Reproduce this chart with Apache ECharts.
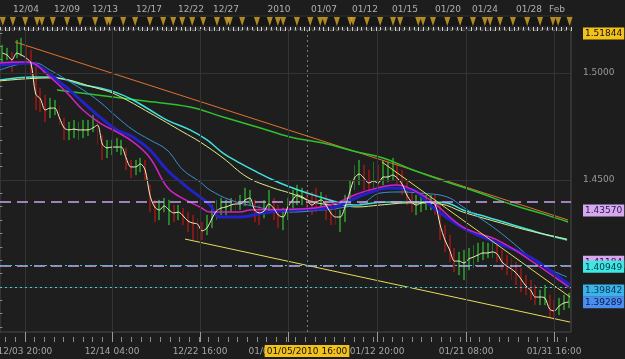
<!DOCTYPE html>
<html><head><meta charset="utf-8">
<script src="https://cdn.jsdelivr.net/npm/echarts@6/dist/echarts.min.js"></script>
<style>html,body{margin:0;padding:0;background:#1d1d1d;}#c{width:625px;height:359px;}</style>
</head><body><div id="c"></div>
<script>
// ---- price bars (4h) ----
const barHigh = [1.5131,1.5117,1.5098,1.5154,1.5164,1.5131,1.5107,1.5037,1.4930,1.4897,
 1.4883,1.4874,1.4850,1.4790,1.4771,1.4780,1.4771,1.4780,1.4780,1.4804,
 1.4790,1.4710,1.4687,1.4687,1.4696,1.4687,1.4650,1.4593,1.4593,1.4603,
 1.4593,1.4477,1.4407,1.4407,1.4416,1.4407,1.4383,1.4383,1.4369,1.4350,
 1.4336,1.4322,1.4304,1.4336,1.4383,1.4407,1.4416,1.4407,1.4416,1.4416,
 1.4430,1.4463,1.4453,1.4407,1.4383,1.4407,1.4453,1.4416,1.4383,1.4369,
 1.4416,1.4453,1.4477,1.4463,1.4453,1.4444,1.4463,1.4444,1.4430,1.4383,
 1.4369,1.4360,1.4430,1.4500,1.4570,1.4593,1.4570,1.4547,1.4584,1.4570,
 1.4593,1.4584,1.4603,1.4570,1.4547,1.4500,1.4444,1.4430,1.4430,1.4430,
 1.4430,1.4430,1.4383,1.4290,1.4243,1.4182,1.4164,1.4173,1.4182,1.4196,
 1.4206,1.4210,1.4206,1.4229,1.4210,1.4173,1.4150,1.4136,1.4117,1.4089,
 1.4056,1.4033,1.4009,1.3986,1.4009,1.3963,1.3939,1.3949,1.3963,1.3972];
const barLow = [1.5051,1.5061,1.5005,1.5070,1.5079,1.5051,1.4991,1.4827,1.4818,1.4771,
 1.4790,1.4804,1.4757,1.4687,1.4687,1.4696,1.4687,1.4696,1.4706,1.4724,
 1.4664,1.4593,1.4603,1.4617,1.4631,1.4617,1.4547,1.4509,1.4523,1.4537,
 1.4500,1.4350,1.4304,1.4313,1.4350,1.4290,1.4304,1.4313,1.4290,1.4257,
 1.4220,1.4210,1.4220,1.4243,1.4276,1.4313,1.4336,1.4336,1.4350,1.4350,
 1.4360,1.4379,1.4383,1.4304,1.4290,1.4322,1.4350,1.4313,1.4276,1.4266,
 1.4313,1.4360,1.4383,1.4383,1.4360,1.4336,1.4350,1.4360,1.4313,1.4290,
 1.4290,1.4257,1.4304,1.4383,1.4453,1.4477,1.4453,1.4444,1.4463,1.4463,
 1.4477,1.4491,1.4500,1.4477,1.4430,1.4383,1.4350,1.4336,1.4350,1.4360,
 1.4360,1.4336,1.4220,1.4164,1.4117,1.4070,1.4056,1.4033,1.4079,1.4089,
 1.4117,1.4126,1.4136,1.4136,1.4117,1.4079,1.4056,1.4033,1.4009,1.3977,
 1.3963,1.3939,1.3916,1.3916,1.3916,1.3855,1.3846,1.3869,1.3893,1.3902];
const barUp = [1,1,0,1,1,0,0,0,0,0,
 1,1,0,0,1,1,1,1,1,1,
 0,0,1,1,1,1,0,0,1,1,
 0,0,0,1,1,1,0,1,0,0,
 0,0,0,1,1,1,1,1,1,0,
 1,1,1,0,0,1,1,0,0,1,
 1,1,1,1,0,0,0,1,0,0,
 0,1,1,1,1,1,0,0,1,0,
 1,1,1,0,0,0,0,1,1,1,
 1,0,0,0,0,0,1,1,1,1,
 1,1,1,1,0,0,0,0,0,0,
 0,0,0,1,1,0,0,1,1,1];
const fastLine = [1.5093,1.5084,1.5061,1.5093,1.5084,1.5070,1.5047,1.4902,1.4879,1.4827,
 1.4836,1.4836,1.4790,1.4743,1.4734,1.4738,1.4734,1.4734,1.4734,1.4743,
 1.4757,1.4668,1.4650,1.4654,1.4654,1.4654,1.4603,1.4561,1.4561,1.4575,
 1.4547,1.4430,1.4374,1.4360,1.4379,1.4360,1.4346,1.4350,1.4332,1.4308,
 1.4299,1.4294,1.4262,1.4276,1.4318,1.4355,1.4369,1.4374,1.4383,1.4388,
 1.4388,1.4407,1.4416,1.4360,1.4346,1.4355,1.4388,1.4369,1.4336,1.4327,
 1.4374,1.4407,1.4430,1.4421,1.4407,1.4383,1.4397,1.4407,1.4383,1.4346,
 1.4327,1.4327,1.4374,1.4444,1.4509,1.4528,1.4509,1.4486,1.4495,1.4486,
 1.4514,1.4514,1.4523,1.4509,1.4481,1.4430,1.4397,1.4383,1.4393,1.4397,
 1.4397,1.4383,1.4290,1.4220,1.4173,1.4121,1.4121,1.4112,1.4131,1.4140,
 1.4150,1.4159,1.4159,1.4164,1.4154,1.4117,1.4098,1.4084,1.4065,1.4037,
 1.4005,1.3986,1.3953,1.3953,1.3949,1.3897,1.3888,1.3911,1.3925,1.3930];

// ---- moving averages [bar position, price] ----
const maMagenta = [[-0.5,1.5047],[3.7,1.5051],[5.38,1.5051],[10.0,1.4981],[13.58,1.4907],[16.94,1.4827],[20.52,1.4766],[24.09,1.4724],[27.45,1.4678],[31.03,1.4603],[34.6,1.4467],[37.33,1.4421],[41.53,1.4374],[43.64,1.4350],[49.94,1.4350],[52.04,1.4360],[62.55,1.4364],[68.86,1.4383],[75.79,1.4444],[82.94,1.4477],[85.04,1.4467],[89.88,1.4407],[96.81,1.4280],[103.96,1.4220],[110.89,1.4126],[117.83,1.4019],[119.3,1.3995]];
const maBlue = [[-0.5,1.5037],[5.8,1.5047],[7.9,1.5028],[13.58,1.4930],[16.94,1.4864],[20.52,1.4794],[24.09,1.4734],[27.45,1.4701],[31.03,1.4640],[34.6,1.4547],[38.8,1.4467],[41.53,1.4421],[43.64,1.4383],[45.74,1.4327],[49.94,1.4327],[54.78,1.4346],[60.45,1.4360],[68.86,1.4369],[75.79,1.4430],[81.47,1.4463],[86.3,1.4453],[89.88,1.4383],[96.81,1.4276],[103.96,1.4206],[110.89,1.4140],[117.83,1.4033],[119.3,1.4009]];
const maSteel = [[-0.5,1.5014],[5.8,1.5047],[6.86,1.5047],[10.0,1.5014],[13.58,1.4967],[16.94,1.4921],[20.52,1.4864],[24.09,1.4794],[27.45,1.4734],[31.03,1.4687],[34.6,1.4640],[37.96,1.4547],[41.53,1.4491],[43.64,1.4453],[47.84,1.4407],[53.51,1.4374],[60.45,1.4350],[67.39,1.4360],[70.96,1.4369],[75.79,1.4393],[79.37,1.4439],[83.57,1.4444],[87.77,1.4439],[93.45,1.4421],[96.81,1.4374],[100.38,1.4322],[103.96,1.4266],[107.32,1.4206],[110.89,1.4140],[114.46,1.4089],[118.67,1.4047]];
const maCyan = [[-0.5,1.4967],[6.44,1.4981],[10.0,1.4981],[13.58,1.4967],[16.94,1.4944],[20.52,1.4930],[24.09,1.4907],[27.45,1.4874],[31.03,1.4827],[34.6,1.4780],[39.43,1.4734],[43.0,1.4687],[46.37,1.4626],[49.94,1.4579],[53.51,1.4537],[56.88,1.4500],[60.45,1.4467],[64.02,1.4439],[67.39,1.4416],[70.96,1.4393],[74.53,1.4383],[77.89,1.4393],[81.47,1.4397],[89.88,1.4397],[93.45,1.4393],[96.81,1.4360],[100.38,1.4336],[103.96,1.4313],[107.32,1.4290],[110.89,1.4266],[114.46,1.4243],[118.67,1.4220]];
const maPale = [[-0.5,1.4963],[10.0,1.4977],[20.52,1.4925],[24.09,1.4897],[31.03,1.4813],[37.96,1.4724],[41.53,1.4678],[46.37,1.4603],[51.41,1.4514],[56.88,1.4463],[60.45,1.4439],[66.1,1.4393],[70.96,1.4383],[74.53,1.4374],[79.37,1.4383],[85.67,1.4393],[91.98,1.4388],[96.81,1.4350],[103.96,1.4304],[110.89,1.4262],[118.67,1.4224]];
const maGreen = [[11.48,1.4921],[29.55,1.4870],[39.43,1.4841],[46.37,1.4794],[53.51,1.4748],[60.45,1.4701],[67.39,1.4673],[74.53,1.4631],[80.0,1.4603],[86.3,1.4547],[93.45,1.4491],[100.38,1.4439],[107.32,1.4383],[114.46,1.4336],[118.88,1.4304]];
// ---- trend lines ----
const trendOrange = [[2.65,1.5145],[118.88,1.4313]];
const trendUpper = [[79.78,1.4584],[119.3,1.3953]];
const trendLower = [[38.38,1.4224],[119.3,1.3836]];
// ---- horizontal levels / labels ----
const levelGold = 1.51844;
const levelLavender = [1.43570, 1.41184];
const levelCyan = [1.40949, 1.39842];
const lastPrice = 1.39289;
const priceLabelValues = [1.5, 1.45, 1.51844, 1.43570, 1.41184, 1.40949, 1.39842, 1.39289];
const priceLabelKinds = ['plain','plain','gold','lav','lav','cyan','lblue','blue'];
// ---- time axis labels ----
const topLabelPos = [4.96,13.58,21.57,30.8,39.64,47.0,58.14,67.6,76.2,84.6,93.66,101.43,110.68,116.57];
const topLabelText = ['12/04','12/09','12/13','12/17','12/22','12/27','2010','01/07','01/12','01/15','01/20','01/24','01/28','Feb'];
const bottomTickPos = [4.75,23.04,41.53,60.03,78.74,97.44,115.93];
const bottomLabelPos = [4.75,23.04,41.53,57.5,78.74,97.44,115.93];
const bottomLabelText = ['12/03 20:00','12/14 04:00','12/22 16:00','01/04 08:00','01/12 20:00','01/21 08:00','01/31 16:00'];
const cursorPos = 64.02;
const cursorText = '01/05/2010 16:00';
const sessionMarks = [0.1,2.2,4.8,7.3,8.3,10.6,13.6,16.3,19.5,22.0,22.6,25.4,27.9,31.0,33.8,35.9,37.8,39.9,42.2,45.1,47.2,47.8,50.4,53.5,56.2,57.9,59.0,61.9,64.7,66.8,67.8,70.3,73.1,73.7,76.6,79.4,82.1,83.6,87.4,88.4,90.5,93.5,96.2,98.9,101.4,102.5,104.6,107.3,110.3,113.0,115.7,116.8,119.2];

const FONT = 'DejaVu Sans';
const yMin = 1.37897, yMax = 1.52056;
const N = barHigh.length;
const categories = barHigh.map((_, i) => String(i));
const candles = barHigh.map((h, i) => barUp[i] ? [barLow[i], h, barLow[i], h] : [h, barLow[i], barLow[i], h]);
const yMinorTicks = []; for (let k = -19; k <= 3; k++) yMinorTicks.push(+(1.5 + k * 0.00625).toFixed(5));
const xMinorTicks = []; const xStep = (bottomTickPos[1] - bottomTickPos[0]) / 9;
for (let v = bottomTickPos[0] - 2 * xStep; v <= N - 0.5; v += xStep) xMinorTicks.push(+v.toFixed(3));

function nearest(arr, v) { let b = 0; for (let i = 1; i < arr.length; i++) if (Math.abs(arr[i] - v) < Math.abs(arr[b] - v)) b = i; return b; }

function maLine(data, color, width, z) {
  return { type: 'line', xAxisIndex: 1, yAxisIndex: 0, data: data, smooth: 0.4, showSymbol: false, symbol: 'none',
    lineStyle: { color: color, width: width }, z: z || 3, silent: true };
}
function trend(data, color) {
  return { type: 'line', xAxisIndex: 1, yAxisIndex: 0, data: data, showSymbol: false, symbol: 'none',
    lineStyle: { color: color, width: 1 }, z: 3, silent: true };
}

const chart = echarts.init(document.getElementById('c'), null, { renderer: 'canvas' });
const box = (bg, fg) => ({ backgroundColor: bg, color: fg, fontSize: 9, fontFamily: FONT, padding: [2, 2, 1, 2] });
chart.setOption({
  backgroundColor: '#1d1d1d',
  animation: false,
  textStyle: { fontFamily: FONT },
  grid: [
    { left: 0, top: 29, width: 571, height: 303, show: true, backgroundColor: '#1e1e1e', borderColor: '#4a4a4a', borderWidth: 1, outerBoundsMode: 'none', containLabel: false },
    { left: 0, top: 16, width: 571, height: 11, show: true, backgroundColor: '#171717', borderColor: '#333', borderWidth: 1, outerBoundsMode: 'none', containLabel: false }
  ],
  xAxis: [
    { type: 'category', gridIndex: 0, data: categories, boundaryGap: true, show: false },
    { type: 'value', gridIndex: 0, min: -0.5, max: N - 0.5, position: 'bottom', offset: 10,
      axisLine: { show: false }, splitLine: { show: false }, axisLabel: { show: false },
      axisTick: { show: true, inside: true, length: 5, customValues: xMinorTicks, lineStyle: { color: '#8a8a8a' } } },
    { type: 'value', gridIndex: 0, min: -0.5, max: N - 0.5, position: 'bottom', offset: 10,
      axisLine: { show: false }, splitLine: { show: false },
      axisTick: { show: true, inside: true, length: 10, customValues: bottomTickPos, lineStyle: { color: '#9a9a9a' } },
      axisLabel: { show: true, customValues: bottomLabelPos, formatter: v => bottomLabelText[nearest(bottomLabelPos, v)], color: '#a4a4a4', fontSize: 9, fontFamily: FONT, margin: 5 } },
    { type: 'value', gridIndex: 0, min: -0.5, max: N - 0.5, position: 'bottom', offset: 10,
      axisLine: { show: false }, splitLine: { show: false }, axisTick: { show: false },
      axisLabel: { show: true, customValues: [cursorPos], formatter: () => cursorText, color: '#111', backgroundColor: '#f2c21a', padding: [2, 2, 1, 2], fontSize: 9, fontFamily: FONT, margin: 3 } },
    { type: 'category', gridIndex: 1, data: categories, boundaryGap: true, position: 'top',
      axisLine: { show: false }, axisLabel: { show: false },
      axisTick: { show: true, inside: true, interval: 0, length: 4, lineStyle: { color: '#cfcfcf' } } },
    { type: 'value', gridIndex: 1, min: -0.5, max: N - 0.5, position: 'top',
      axisLine: { show: false }, splitLine: { show: false }, axisTick: { show: false },
      axisLabel: { show: true, customValues: topLabelPos, formatter: v => topLabelText[nearest(topLabelPos, v)], color: '#b0b0b0', fontSize: 9, fontFamily: FONT, margin: 2 } }
  ],
  yAxis: [
    { type: 'value', gridIndex: 0, position: 'right', min: yMin, max: yMax,
      axisLine: { show: false }, splitLine: { show: false }, axisTick: { show: false },
      axisLabel: { show: true, margin: 12, customValues: priceLabelValues, color: '#9a9a9a', fontSize: 9, fontFamily: FONT,
        formatter: v => { const i = nearest(priceLabelValues, v); const k = priceLabelKinds[i];
          return '{' + k + '|' + (k === 'plain' ? priceLabelValues[i].toFixed(4) : priceLabelValues[i].toFixed(5)) + '}'; },
        rich: {
          plain: { color: '#9a9a9a', fontSize: 9, fontFamily: FONT },
          gold: box('#f2c21a', '#111'),
          lav: box('#d6a8f2', '#2a1a3a'),
          cyan: box('#3ee6e6', '#0e3434'),
          lblue: box('#3ab4e4', '#10305a'),
          blue: box('#4a8ff0', '#0a1a44')
        } } },
    { type: 'value', gridIndex: 0, position: 'right', offset: 12, min: yMin, max: yMax,
      axisLine: { show: false }, splitLine: { show: false }, axisLabel: { show: false },
      axisTick: { show: true, inside: true, length: 4, customValues: yMinorTicks, lineStyle: { color: '#8a8a8a' } } },
    { type: 'value', gridIndex: 0, position: 'right', offset: 12, min: yMin, max: yMax,
      axisLine: { show: false }, splitLine: { show: false }, axisLabel: { show: false },
      axisTick: { show: true, inside: true, length: 12, customValues: [1.40, 1.45, 1.5], lineStyle: { color: '#8a8a8a' } } },
    { type: 'value', gridIndex: 1, min: 0, max: 1, show: false }
  ],
  series: [
    { type: 'line', xAxisIndex: 1, yAxisIndex: 0, data: [[-1, 1.45]], showSymbol: false, symbol: 'none', lineStyle: { opacity: 0 }, z: 1, silent: true,
      markLine: { silent: true, symbol: ['none', 'none'], label: { show: false }, animation: false,
        lineStyle: { color: '#343434', type: 'solid', width: 1 },
        data: bottomTickPos.map(v => ({ xAxis: v })).concat([1.40, 1.45, 1.5].map(v => ({ yAxis: v }))) } },
    { type: 'candlestick', xAxisIndex: 0, yAxisIndex: 0, data: candles, barWidth: 1.4, z: 2, silent: true,
      itemStyle: { color: '#2fb82f', color0: '#b81616', borderColor: '#2fb82f', borderColor0: '#b81616', borderWidth: 0.3 } },
    trend(trendOrange, '#e0722e'),
    maLine(maGreen, '#2ec22e', 1.5),
    maLine(maCyan, '#3ee2dc', 1.5),
    maLine(maPale, '#dcf08c', 1),
    maLine(maSteel, '#3a90d8', 1),
    maLine(maBlue, '#2222c8', 3),
    maLine(maMagenta, '#d222c2', 1.5),
    trend(trendUpper, '#e6dc5a'),
    trend(trendLower, '#e6dc5a'),
    { type: 'line', xAxisIndex: 0, yAxisIndex: 0, data: fastLine, smooth: 0.3, showSymbol: false, symbol: 'none',
      lineStyle: { color: '#f4f0c4', width: 1 }, z: 4, silent: true },
    { type: 'line', xAxisIndex: 1, yAxisIndex: 0, data: [[-1, lastPrice]], showSymbol: false, symbol: 'none', lineStyle: { opacity: 0 }, z: 6, silent: true,
      markLine: { silent: true, symbol: ['none', 'none'], label: { show: false }, animation: false,
        data: [
          { yAxis: levelGold, lineStyle: { color: '#5c5c5c', type: [3, 3], width: 1 } },
          ...levelLavender.map(v => ({ yAxis: v, lineStyle: { color: '#c9a2ee', type: [11, 6], width: 1.5 } })),
          ...levelCyan.map(v => ({ yAxis: v, lineStyle: { color: '#3ed0d0', type: [2, 3], width: 1 } })),
          { xAxis: cursorPos, lineStyle: { color: '#7a7a7a', type: [2, 3], width: 1 } }
        ] } },
    { type: 'scatter', xAxisIndex: 5, yAxisIndex: 3, data: sessionMarks.map(v => [v, 0.5]), symbol: 'triangle', symbolRotate: 180,
      symbolSize: [6, 9], itemStyle: { color: '#d6a624' }, z: 5, silent: true }
  ]
});
</script>
</body></html>
